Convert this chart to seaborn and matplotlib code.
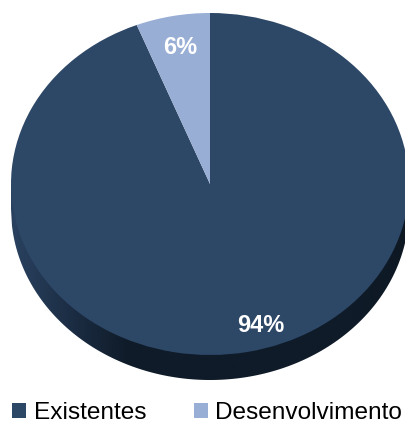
import numpy as np
import matplotlib
matplotlib.use("Agg")
import matplotlib.pyplot as plt
from matplotlib.colors import LinearSegmentedColormap
from matplotlib.patches import Patch, PathPatch
import seaborn as sns

categories = ["Existentes", "Desenvolvimento"]
values = [94, 6]
colors = ["#2d4767", "#98aed4"]
side_colors = ["#2a4260", "#1c2e45", "#101c2a", "#0f1b28", "#0f1b28", "#0f1b28", "#0f1b28", "#0d1823"]

W, H = 406, 425
CX, CY = 210, 184
RX, RY = 199, 171
DEPTH = 25 / RY

sns.set_theme(style="white")
plt.rcParams["font.family"] = ["Liberation Sans", "DejaVu Sans"]

fig = plt.figure(figsize=(W / 100, H / 100), dpi=100)
ax = fig.add_axes([0, 0, 1, 1])


def draw_side(ax):
    # extruded edge under the pie, darker towards the middle
    xs = np.linspace(-1, 1, 400)
    band = ax.fill_between(xs, -DEPTH - np.sqrt(1 - xs**2), 0, color="none")
    cmap = LinearSegmentedColormap.from_list("side", side_colors)
    img = ax.imshow(
        np.linspace(0, 1, 256).reshape(1, -1),
        cmap=cmap,
        extent=(-1, 1, -1.3, 0),
        aspect="auto",
        zorder=1,
    )
    img.set_clip_path(PathPatch(band.get_paths()[0], transform=ax.transData))


draw_side(ax)
wedges, _ = ax.pie(
    values,
    colors=colors,
    startangle=90,
    counterclock=False,
    radius=1,
    wedgeprops={"linewidth": 0, "zorder": 2},
)

# pie() forces equal aspect, the original is a flattened ellipse
ax.set_aspect("auto")
ax.set_xlim(-CX / RX, (W - CX) / RX)
ax.set_ylim(-(H - CY) / RY, CY / RY)
ax.set_axis_off()

label_pos = [(51 / RX, -141 / RY), (-30 / RX, 137 / RY)]
for val, (lx, ly) in zip(values, label_pos):
    ax.text(lx, ly, f"{val}%", color="white", fontsize=17, fontweight="bold",
            ha="center", va="center", zorder=3)

handles = [Patch(facecolor=c, edgecolor="none", label=n) for c, n in zip(colors, categories)]
fig.legend(
    handles=handles,
    ncol=2,
    loc="lower left",
    bbox_to_anchor=(12 / W, 1 / H),
    frameon=False,
    fontsize=17.6,
    handlelength=0.58,
    handleheight=0.58,
    handletextpad=0.3,
    columnspacing=1.95,
    borderpad=0,
    borderaxespad=0,
    labelcolor="black",
)

fig.savefig("out.png", dpi=100)
plt.close(fig)
